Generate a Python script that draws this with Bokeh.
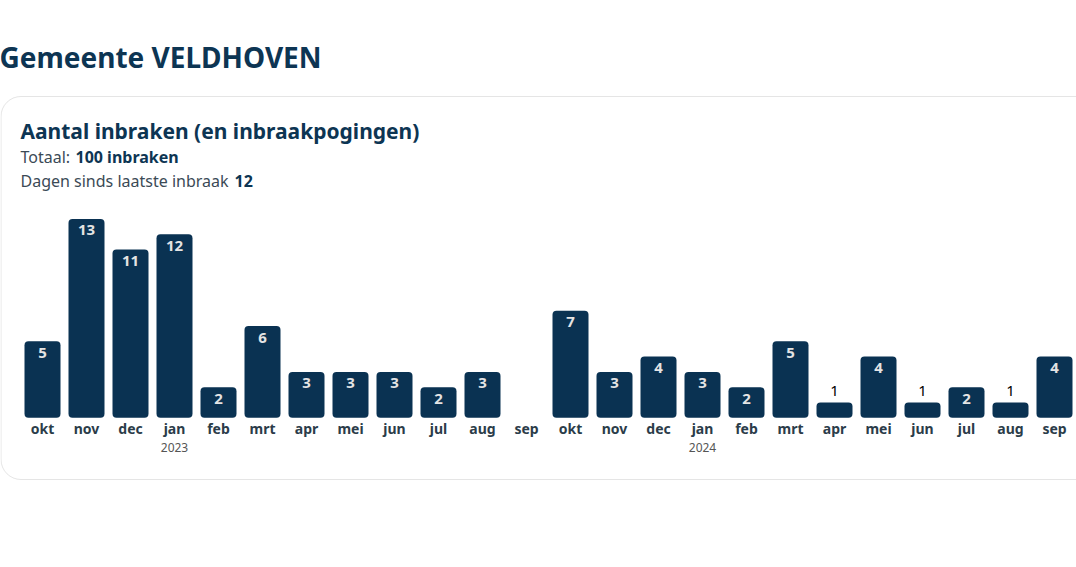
from bokeh.plotting import figure
from bokeh.models import Range1d, Label, BoxAnnotation, ColumnDataSource
from bokeh.embed import file_html
from bokeh.resources import INLINE
from bokeh.core.properties import value

# ---- data ----
months = ["okt", "nov", "dec", "jan", "feb", "mrt", "apr", "mei", "jun", "jul", "aug", "sep",
          "okt", "nov", "dec", "jan", "feb", "mrt", "apr", "mei", "jun", "jul", "aug", "sep"]
counts = [5, 13, 11, 12, 2, 6, 3, 3, 3, 2, 3, 0,
          7, 3, 4, 3, 2, 5, 1, 4, 1, 2, 1, 4]
years = ["2023", "2024"]
year_month_index = [3, 15]
page_title = "Gemeente VELDHOVEN"
chart_title = "Aantal inbraken (en inbraakpogingen)"
total_label = "Totaal:"
total_value = "100 inbraken"
days_label = "Dagen sinds laatste inbraak"
days_value = "12"

# ---- layout helpers (pixel -> data) ----
W, H = 1076, 567
X0, DX = 42.0, 44.0      # pixel centre of first bar, pixels per bar
BASE, PXU = 417.3, 15.3  # pixel of baseline, pixels per unit
BL = 0.41                # baseline correction (em)


def X(px):
    return (px - X0) / DX


def Y(py):
    return (BASE - py) / PXU


def YB(py, size):
    """data y for a text whose alphabetic baseline should sit at pixel py"""
    return Y(py - BL * size)


FONT = "Noto Sans"
NAVY = "#0a3252"
TXT = "#0d3553"
SUB = "#3b4a56"

p = figure(width=W, height=H, output_backend="svg", toolbar_location=None,
           x_range=Range1d(X(0), X(W)), y_range=Range1d(Y(H), Y(0)),
           min_border=0, min_border_left=0, min_border_right=0,
           min_border_top=0, min_border_bottom=0)
p.axis.visible = False
p.xgrid.visible = False
p.ygrid.visible = False
p.outline_line_color = None
p.background_fill_color = "white"
p.border_fill_color = "white"

# card
card = BoxAnnotation(left=X(0.5), right=X(1300), top=Y(96), bottom=Y(479),
                     fill_color=None, line_color="#a8a8a8", line_width=1,
                     border_radius=20, level="underlay")
p.add_layout(card)

# titles
p.add_layout(Label(x=X(-1), y=YB(68, 28), text=page_title, text_font=FONT,
                   text_font_style="bold", text_font_size="28px", text_color=TXT,
                   text_baseline="alphabetic"))
p.add_layout(Label(x=X(20), y=YB(139, 21), text=chart_title, text_font=FONT,
                   text_font_style="bold", text_font_size="21px", text_color=TXT,
                   text_baseline="alphabetic"))
p.add_layout(Label(x=X(20), y=YB(163.3, 16), text=total_label, text_font=FONT,
                   text_font_size="16px", text_color=SUB, text_baseline="alphabetic"))
p.add_layout(Label(x=X(75), y=YB(163.3, 16), text=total_value, text_font=FONT,
                   text_font_style="bold", text_font_size="16px", text_color=TXT,
                   text_baseline="alphabetic"))
p.add_layout(Label(x=X(20), y=YB(187, 16), text=days_label, text_font=FONT,
                   text_font_size="16px", text_color=SUB, text_baseline="alphabetic"))
p.add_layout(Label(x=X(234), y=YB(187, 16), text=days_value, text_font=FONT,
                   text_font_style="bold", text_font_size="16px", text_color=TXT,
                   text_baseline="alphabetic"))

# bars
idx = list(range(len(counts)))
src = ColumnDataSource(dict(x=idx, top=counts))
p.vbar(x="x", top="top", bottom=0, width=36 / DX, source=src,
       fill_color=NAVY, line_color=None, border_radius=4)

# value labels
in_x, in_y, in_t = [], [], []
out_x, out_y, out_t = [], [], []
for i, v in zip(idx, counts):
    if v >= 2:
        in_x.append(i)
        in_y.append(v - (17.7 - BL * 15) / PXU)
        in_t.append(str(v))
    elif v == 1:
        out_x.append(i)
        out_y.append(v + (5.5 + BL * 15) / PXU)
        out_t.append(str(v))

p.text(x=in_x, y=in_y, text=in_t, text_font=value(FONT), text_font_style="bold",
       text_font_size="15px", text_color="#e4e4e4", text_align="center",
       text_baseline="alphabetic")
p.text(x=out_x, y=out_y, text=out_t, text_font=value(FONT),
       text_font_size="15px", text_color="#000000", text_align="center",
       text_baseline="alphabetic", level="overlay")

# month labels
p.text(x=idx, y=[YB(434, 14)] * len(idx), text=months, text_font=value(FONT),
       text_font_style="bold", text_font_size="14px", text_color="#2b3c49",
       text_align="center", text_baseline="alphabetic")
# year labels
p.text(x=year_month_index, y=[YB(452.3, 12)] * len(years), text=years,
       text_font=value(FONT), text_font_size="12px", text_color="#555555",
       text_align="center", text_baseline="alphabetic")

open("out.html", "w").write(file_html(p, INLINE))
